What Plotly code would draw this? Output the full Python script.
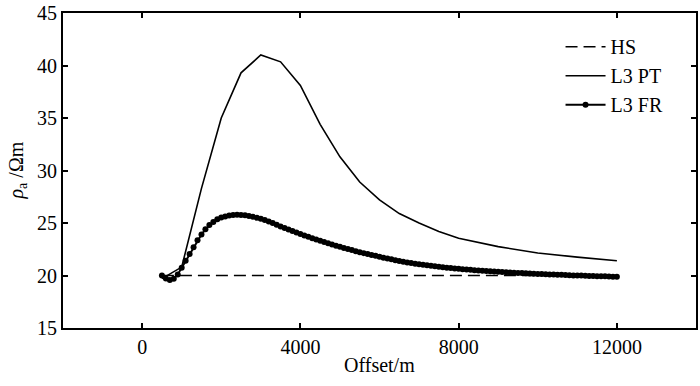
import plotly.graph_objects as go

# ---- data ----
hs_offset = [500, 1000, 1500, 2000, 3000, 4000, 6000, 8000, 10000, 12000]
hs_rho = [20.0, 20.0, 20.02, 20.03, 20.0, 20.0, 20.0, 20.0, 20.0, 20.0]

pt_offset = [500, 1000, 1500, 2000, 2500, 3000, 3500, 4000, 4500, 5000, 5500,
             6000, 6500, 7000, 7500, 8000, 9000, 10000, 11000, 12000]
pt_rho = [19.7, 20.8, 28.3, 35.0, 39.3, 41.0, 40.35, 38.1, 34.4, 31.3, 28.9,
          27.2, 25.9, 25.0, 24.2, 23.55, 22.75, 22.15, 21.75, 21.4]

fr_offset = list(range(500, 12001, 100))
fr_rho = [
    20.00, 19.72, 19.58, 19.70, 20.10,                      # 500-900
    20.75, 21.40, 22.05, 22.70, 23.35, 23.90, 24.40, 24.80, 25.10, 25.35,   # 1000-1900
    25.52, 25.63, 25.71, 25.76, 25.78, 25.77, 25.73, 25.67, 25.59, 25.50,   # 2000-2900
    25.40, 25.28, 25.15, 24.99, 24.83, 24.67, 24.52, 24.37, 24.23, 24.09,   # 3000-3900
    23.95, 23.81, 23.68, 23.55, 23.42, 23.30, 23.18, 23.06, 22.95, 22.84,   # 4000-4900
    22.73, 22.62, 22.52, 22.42, 22.32, 22.22, 22.13, 22.04, 21.95, 21.87,   # 5000-5900
    21.79, 21.70, 21.62, 21.54, 21.46, 21.39, 21.32, 21.25, 21.19, 21.13,   # 6000-6900
    21.07, 21.02, 20.97, 20.92, 20.87, 20.83, 20.79, 20.75, 20.71, 20.67,   # 7000-7900
    20.64, 20.60, 20.57, 20.54, 20.51, 20.48, 20.45, 20.43, 20.40, 20.38,   # 8000-8900
    20.35, 20.33, 20.31, 20.29, 20.27, 20.25, 20.23, 20.21, 20.19, 20.17,   # 9000-9900
    20.15, 20.14, 20.12, 20.10, 20.09, 20.07, 20.06, 20.04, 20.03, 20.01,   # 10000-10900
    20.00, 19.99, 19.98, 19.96, 19.95, 19.94, 19.93, 19.92, 19.90, 19.89,   # 11000-11900
    19.88,                                                                  # 12000
]

x_ticks = [0, 4000, 8000, 12000]
y_ticks = [15, 20, 25, 30, 35, 40, 45]

FONT = "Liberation Serif, Times New Roman, DejaVu Serif, serif"

fig = go.Figure()
fig.add_trace(go.Scatter(x=hs_offset, y=hs_rho, mode="lines", name="HS",
                         line=dict(color="black", width=1.5, dash="12px,6px")))
fig.add_trace(go.Scatter(x=pt_offset, y=pt_rho, mode="lines", name="L3 PT",
                         line=dict(color="black", width=1.6)))
fig.add_trace(go.Scatter(x=fr_offset, y=fr_rho, mode="lines+markers", name="L3 FR",
                         line=dict(color="black", width=2),
                         marker=dict(color="black", size=6, symbol="circle")))

axis_common = dict(showgrid=False, zeroline=False, showline=True, linecolor="black",
                   linewidth=1.8, mirror="ticks", ticks="inside", ticklen=5,
                   tickwidth=1.5, tickcolor="black",
                   tickfont=dict(family=FONT, size=20, color="black"))

fig.update_xaxes(range=[-2000, 14000], tickvals=x_ticks,
                 ticktext=[str(v) for v in x_ticks], **axis_common)
fig.update_yaxes(range=[15, 45], tickvals=y_ticks,
                 ticktext=[str(v) for v in y_ticks], **axis_common)

fig.add_annotation(text="Offset/m", xref="paper", yref="paper", x=0.5, y=0,
                   yshift=-24, yanchor="top", showarrow=False,
                   font=dict(family=FONT, size=20, color="black"))
fig.add_annotation(text="<i>ρ</i><sub>a</sub> /Ωm", xref="paper", yref="paper",
                   x=0, xshift=-46, y=0.5, xanchor="center", yanchor="middle",
                   textangle=-90, showarrow=False,
                   font=dict(family=FONT, size=20, color="black"))

fig.update_layout(
    width=700, height=386,
    margin=dict(l=63, r=2, t=11, b=58),
    paper_bgcolor="white", plot_bgcolor="white",
    font=dict(family=FONT, size=20, color="black"),
    legend=dict(x=0.786, y=0.955, xanchor="left", yanchor="top",
                bgcolor="rgba(0,0,0,0)", font=dict(family=FONT, size=20),
                tracegroupgap=0, itemwidth=40),
    showlegend=True,
)

fig.write_html("out.html", config={"displayModeBar": False},
               post_script="document.body.style.margin='0';document.body.style.overflow='hidden';")
